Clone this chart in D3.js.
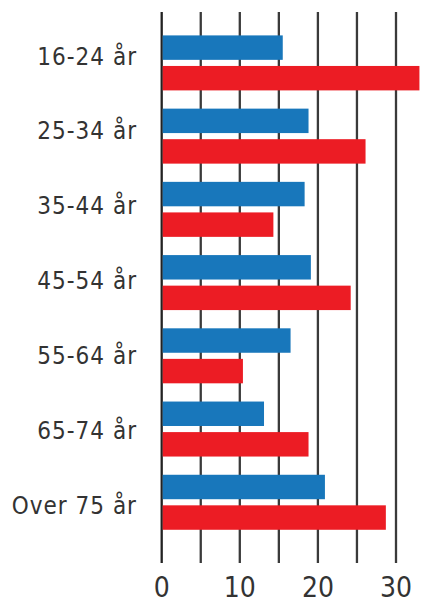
<html>
<head>
<meta charset="utf-8">
<script src="https://d3js.org/d3.v7.min.js"></script>
<style>
  body { margin: 0; background: #fff; }
  text { font-family: "DejaVu Sans Condensed", "DejaVu Sans", sans-serif; fill: #333; }
</style>
</head>
<body>
<svg id="chart" width="432" height="604"></svg>
<script>
const ages = ["16-24 år", "25-34 år", "35-44 år", "45-54 år", "55-64 år", "65-74 år", "Over 75 år"];
const blueValues = [15.5, 18.8, 18.3, 19.1, 16.5, 13.1, 20.9];
const redValues = [33.0, 26.1, 14.3, 24.2, 10.4, 18.8, 28.7];
const gridTicks = [0, 5, 10, 15, 20, 25, 30];
const labelTicks = [0, 10, 20, 30];

const rows = ages.map((a, i) => ({ age: a, blue: blueValues[i], red: redValues[i] }));

const svg = d3.select("svg#chart");

const x = d3.scaleLinear().domain([0, 30]).range([161.7, 396]);
const y = d3.scaleBand().domain(ages).range([26.4, 539]);
const sub = d3.scaleBand().domain(["blue", "red"]).range([9, 64]).paddingInner(0.2);
const labelY = d3.scalePoint().domain(ages).range([56, 505]);

// gridlines
svg.append("g")
  .selectAll("line").data(gridTicks)
  .join("line")
  .attr("x1", d => x(d)).attr("x2", d => x(d))
  .attr("y1", 12).attr("y2", 563)
  .attr("stroke", d => d === 0 ? "#222" : "#3a3a3a")
  .attr("stroke-width", 2.3);

// bars
const colors = { blue: "#1877bb", red: "#ec1c24" };
const groups = svg.append("g").selectAll("g").data(rows)
  .join("g")
  .attr("transform", d => `translate(0,${y(d.age)})`);

["blue", "red"].forEach(s => {
  groups.append("rect")
    .attr("x", x(0) + 1)
    .attr("y", sub(s))
    .attr("width", d => x(d[s]) - x(0) - 1)
    .attr("height", sub.bandwidth())
    .attr("fill", colors[s]);
});

// category labels
svg.append("g").selectAll("text").data(ages)
  .join("text")
  .attr("x", 137)
  .attr("y", d => labelY(d))
  .attr("dy", "0.36em")
  .attr("text-anchor", "end")
  .attr("font-size", 24)
  .attr("letter-spacing", 1)
  .text(d => d);

// x tick labels
svg.append("g").selectAll("text").data(labelTicks)
  .join("text")
  .attr("x", d => x(d))
  .attr("y", 597)
  .attr("text-anchor", "middle")
  .attr("font-size", 28)
  .text(d => d);
</script>
</body>
</html>
